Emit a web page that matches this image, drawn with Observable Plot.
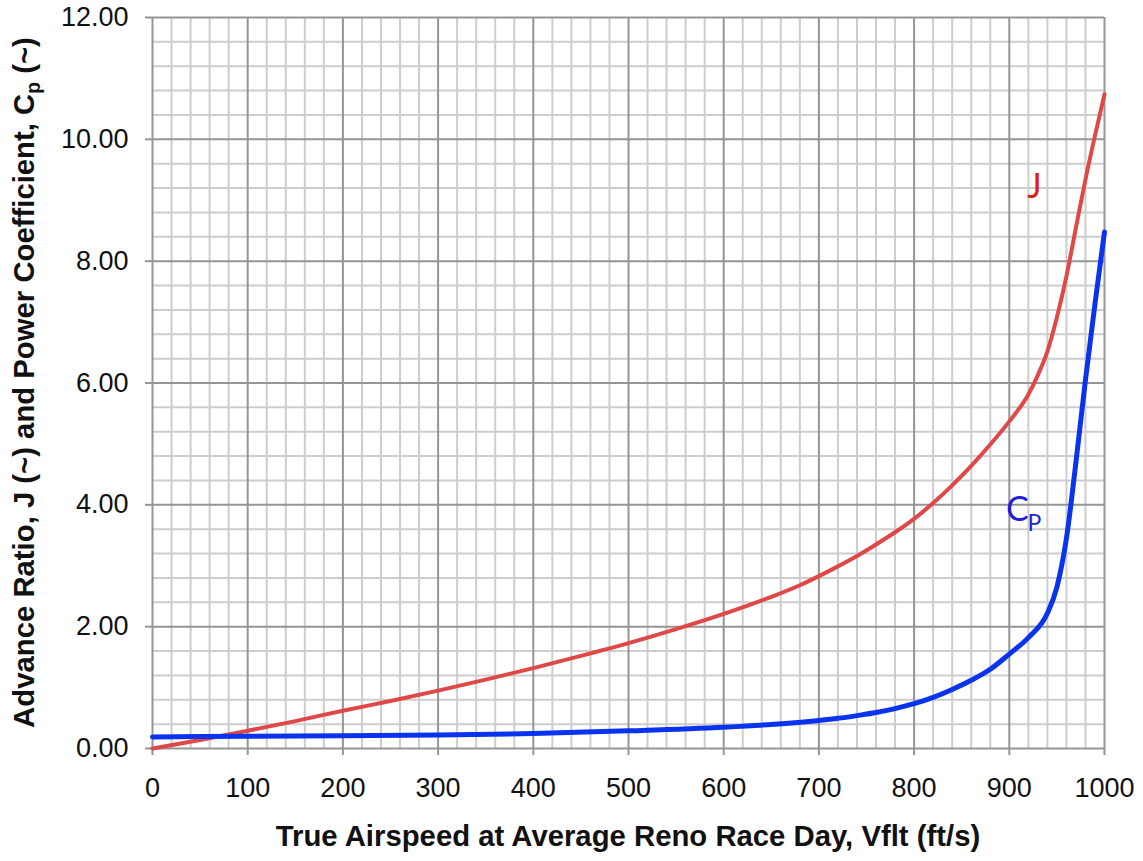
<!DOCTYPE html>
<html>
<head>
<meta charset="utf-8">
<script src="https://cdn.jsdelivr.net/npm/d3@7"></script>
<script src="https://cdn.jsdelivr.net/npm/@observablehq/plot@0.6"></script>
<style>
  body { margin: 0; background: #fff; }
  #chart svg { display: block; }
</style>
</head>
<body>
<div id="chart"></div>
<script>
// Advance ratio J versus true airspeed (ft/s)
const jSpeed = [0, 50, 100, 150, 200, 250, 300, 350, 400, 450, 500, 550, 600, 650, 680, 700, 720, 740, 760, 780, 800,
  820, 840, 860, 880, 900, 920, 930, 940, 950, 960, 970, 980, 990, 1000];
const jValues = [0, 0.14, 0.29, 0.45, 0.62, 0.78, 0.95, 1.13, 1.32, 1.52, 1.73, 1.96, 2.21, 2.49, 2.68, 2.83, 2.99, 3.16, 3.35, 3.55, 3.77,
  4.03, 4.32, 4.64, 4.99, 5.37, 5.81, 6.13, 6.52, 7.08, 7.75, 8.55, 9.34, 10.06, 10.74];

// Power coefficient Cp versus true airspeed (ft/s)
const cpSpeed = [0, 100, 200, 300, 400, 500, 600, 650, 700, 720, 740, 760, 780, 800, 820, 840, 860, 880, 900, 920, 940,
  950, 960, 970, 980, 990, 1000];
const cpValues = [0.19, 0.20, 0.21, 0.22, 0.245, 0.29, 0.35, 0.395, 0.46, 0.495, 0.54, 0.59, 0.655, 0.735, 0.84, 0.97, 1.12, 1.30, 1.55, 1.82, 2.22,
  2.65, 3.45, 4.7, 6.05, 7.3, 8.48];

// Axis ticks
const xTicks = [0, 100, 200, 300, 400, 500, 600, 700, 800, 900, 1000];
const yTicks = [0, 2, 4, 6, 8, 10, 12];
const xMinorStep = 20;
const yMinorStep = 0.4;

// Curve labels (data coordinates)
const curveLabels = [
  {name: "J", speed: 926.5, value: 9.22},
  {name: "C", speed: 908.5, value: 3.92}
];

const jData = jSpeed.map((s, i) => ({speed: s, value: jValues[i]}));
const cpData = cpSpeed.map((s, i) => ({speed: s, value: cpValues[i]}));

const minorX = d3.range(0, 51).map(k => k * xMinorStep).filter(v => v % 100 !== 0);
const minorY = d3.range(0, 31).filter(k => k % 5 !== 0).map(k => +(k * yMinorStep).toFixed(2));

const font = "'Liberation Sans', Arial, Helvetica, sans-serif";
const labelFont = "Lato, 'Open Sans', sans-serif";
const gridMajor = "#959595";
const gridMinor = "#cdcdcd";

const plot = Plot.plot({
  width: 1143,
  height: 861,
  marginLeft: 152,
  marginRight: 39,
  marginTop: 17,
  marginBottom: 113,
  x: {domain: [0, 1000]},
  y: {domain: [0, 12]},
  style: {fontFamily: font, background: "#fff", color: "#111"},
  marks: [
    Plot.ruleX(minorX, {stroke: gridMinor, strokeWidth: 2}),
    Plot.ruleY(minorY, {stroke: gridMinor, strokeWidth: 2}),
    Plot.ruleX(xTicks, {stroke: gridMajor, strokeWidth: 2}),
    Plot.ruleY(yTicks, {stroke: gridMajor, strokeWidth: 2}),
    Plot.axisX({ticks: xTicks, tickSize: 7, tickPadding: 22, fontSize: 27, stroke: gridMajor, strokeWidth: 2,
      tickFormat: d => String(d), label: null}),
    Plot.axisY({ticks: yTicks, tickSize: 7, tickPadding: 17, fontSize: 27, stroke: gridMajor, strokeWidth: 2,
      tickFormat: d => d.toFixed(2), label: null}),
    Plot.line(jData, {x: "speed", y: "value", stroke: "#e04848", strokeWidth: 4, curve: "monotone-x"}),
    Plot.line(cpData, {x: "speed", y: "value", stroke: "#0a33ee", strokeWidth: 5, curve: "monotone-x"}),
    Plot.text(curveLabels.filter(d => d.name === "J"), {x: "speed", y: "value", text: "name",
      fill: "#dd1c1c", fontSize: 34, fontFamily: labelFont}),
    Plot.text(curveLabels.filter(d => d.name === "C"), {x: "speed", y: "value", text: "name",
      fill: "#1f1fd6", fontSize: 34, fontFamily: labelFont}),
    Plot.text(curveLabels.filter(d => d.name === "C"), {x: "speed", y: "value", text: () => "P",
      dx: 17, dy: 14, fill: "#1f1fd6", fontSize: 23, fontFamily: labelFont})
  ]
});

// Axis titles, with a subscript in the vertical one
const svg = d3.select(plot);
const xs = plot.scale("x").range;
const ys = plot.scale("y").range;

svg.append("text")
  .attr("x", (xs[0] + xs[1]) / 2)
  .attr("y", 846)
  .attr("text-anchor", "middle")
  .attr("font-family", font)
  .attr("font-weight", "bold")
  .attr("font-size", 29.3)
  .attr("fill", "#111")
  .text("True Airspeed at Average Reno Race Day, Vflt (ft/s)");

const yTitle = svg.append("text")
  .attr("transform", `translate(34,${(ys[0] + ys[1]) / 2}) rotate(-90)`)
  .attr("text-anchor", "middle")
  .attr("font-family", font)
  .attr("font-weight", "bold")
  .attr("font-size", 29.3)
  .attr("fill", "#111");
yTitle.append("tspan").text("Advance Ratio, J (~) and Power Coefficient, C");
yTitle.append("tspan").attr("font-size", 19.5).attr("dy", 6).text("p");
yTitle.append("tspan").attr("dy", -6).text(" (~)");

document.getElementById("chart").appendChild(plot);
</script>
</body>
</html>
